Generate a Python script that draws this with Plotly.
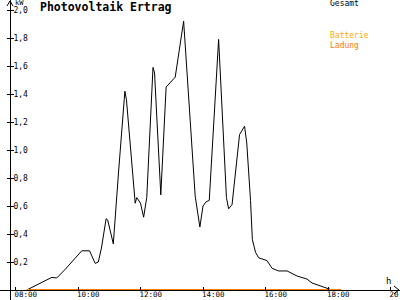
import plotly.graph_objects as go

# --- data -------------------------------------------------------------
gesamt_t = [8.36, 9.16, 9.32, 9.6, 10.12, 10.37, 10.55, 10.65, 10.75, 10.9, 10.95,
            11.13, 11.3, 11.5, 11.55, 11.83, 11.88, 11.95, 12.0, 12.1, 12.2, 12.4,
            12.45, 12.65, 12.82, 13.11, 13.38, 13.75, 13.9, 14.0, 14.1, 14.2, 14.5,
            14.75, 14.82, 14.93, 15.17, 15.33, 15.4, 15.52, 15.58, 15.68, 15.78,
            16.05, 16.21, 16.42, 16.69, 17.01, 17.33, 17.49, 18.03, 18.13]
gesamt_v = [0.0, 0.09, 0.086, 0.15, 0.28, 0.28, 0.19, 0.20, 0.30, 0.51, 0.50,
            0.33, 0.85, 1.42, 1.36, 0.62, 0.66, 0.64, 0.62, 0.52, 0.66, 1.59,
            1.55, 0.68, 1.45, 1.52, 1.92, 0.67, 0.45, 0.60, 0.63, 0.64, 1.79,
            0.66, 0.58, 0.61, 1.11, 1.17, 1.05, 0.64, 0.36, 0.27, 0.23,
            0.21, 0.155, 0.136, 0.136, 0.10, 0.078, 0.05, 0.007, 0.0]

batterie_t = [8.36, 18.43]
batterie_v = [0.0, 0.0]

x_ticks = [8, 10, 12, 14, 16, 18, 20]
x_ticktext = ["08:00", "10:00", "12:00", "14:00", "16:00", "18:00", "20:00"]
y_ticks = [0.2, 0.4, 0.6, 0.8, 1.0, 1.2, 1.4, 1.6, 1.8, 2.0]

# --- figure -----------------------------------------------------------
W, H = 400, 300
FONT = "DejaVu Sans Mono"
x_range = [8 - 15.5 / 31.25, 8 + 384.5 / 31.25]
y_range = [-10 / 140, 2 + 10 / 140]

fig = go.Figure()
fig.add_trace(go.Scatter(x=gesamt_t, y=gesamt_v, mode="lines",
                         line=dict(color="black", width=1), name="Gesamt"))
fig.add_trace(go.Scatter(x=batterie_t, y=batterie_v, mode="lines",
                         line=dict(color="#FF8000", width=2), name="Batterie Ladung"))
fig.add_trace(go.Scatter(x=[None], y=[None], xaxis="x", yaxis="y2",
                         showlegend=False, hoverinfo="skip"))

fig.update_layout(
    width=W, height=H,
    margin=dict(l=0, r=0, t=0, b=0, autoexpand=False),
    paper_bgcolor="white", plot_bgcolor="white",
    showlegend=False,
    separators=",.",
    font=dict(family=FONT, size=8, color="black"),
    xaxis=dict(range=x_range, domain=[0, 1], anchor="free", position=10 / H,
               automargin=False,
               showgrid=False, zeroline=False, showline=True, linecolor="black",
               linewidth=1, ticks="inside", ticklen=3, tickcolor="black",
               tickvals=x_ticks, ticktext=x_ticktext,
               ticklabelposition="outside right", ticklabeloverflow="allow",
               ticklabelshift=-2, ticklabelstandoff=-3,
               tickfont=dict(family=FONT, size=7.5, color="black")),
    yaxis=dict(range=y_range, domain=[0, 1], anchor="free", position=10 / W,
               automargin=False,
               showgrid=False, zeroline=False, showline=True, linecolor="black",
               linewidth=1, ticks="outside", ticklen=3, tickcolor="black",
               tickvals=y_ticks, tickformat=".1f",
               ticklabelposition="inside", ticklabeloverflow="allow",
               ticklabelstandoff=1,
               tickfont=dict(family=FONT, size=8, color="black")),
    yaxis2=dict(range=y_range, domain=[0, 1], overlaying="y", anchor="free",
                position=10 / W, side="left", showgrid=False, zeroline=False,
                automargin=False,
                showline=False, ticks="inside", ticklen=3, tickcolor="black",
                tickvals=y_ticks, showticklabels=False),
    title=dict(text="<b>Photovoltaik Ertrag</b>", x=40 / W, xanchor="left",
               y=1 - 7 / H, yanchor="middle",
               font=dict(family=FONT, size=11.5, color="black")),
)

ann = [
    dict(text="kW", x=14 / W, y=1 - 3 / H, font=dict(size=7, color="black")),
    dict(text="Gesamt", x=329 / W, y=1 - 4 / H, font=dict(size=8, color="black")),
    dict(text="Batterie", x=329 / W, y=1 - 35 / H, font=dict(size=8, color="#FFA800")),
    dict(text="Ladung", x=329 / W, y=1 - 45 / H, font=dict(size=8, color="#FF7A00")),
    dict(text="h", x=385 / W, y=1 - 281 / H, font=dict(size=9, color="black")),
]
for a in ann:
    fig.add_annotation(xref="paper", yref="paper", xanchor="left", yanchor="middle",
                       showarrow=False, font_family=FONT, borderpad=0,
                       **{k: v for k, v in a.items()})

# axis arrow heads (decoration)
fig.add_shape(type="path", xref="paper", yref="paper",
              path=f"M {7/W},{1-6/H} L {10/W},{1-1/H} L {13/W},{1-6/H}",
              line=dict(color="black", width=1))
fig.add_shape(type="path", xref="paper", yref="paper",
              path=f"M {394/W},{1-286/H} L {399/W},{1-290/H} L {394/W},{1-294/H}",
              line=dict(color="black", width=1))

fig.write_html("out.html")
